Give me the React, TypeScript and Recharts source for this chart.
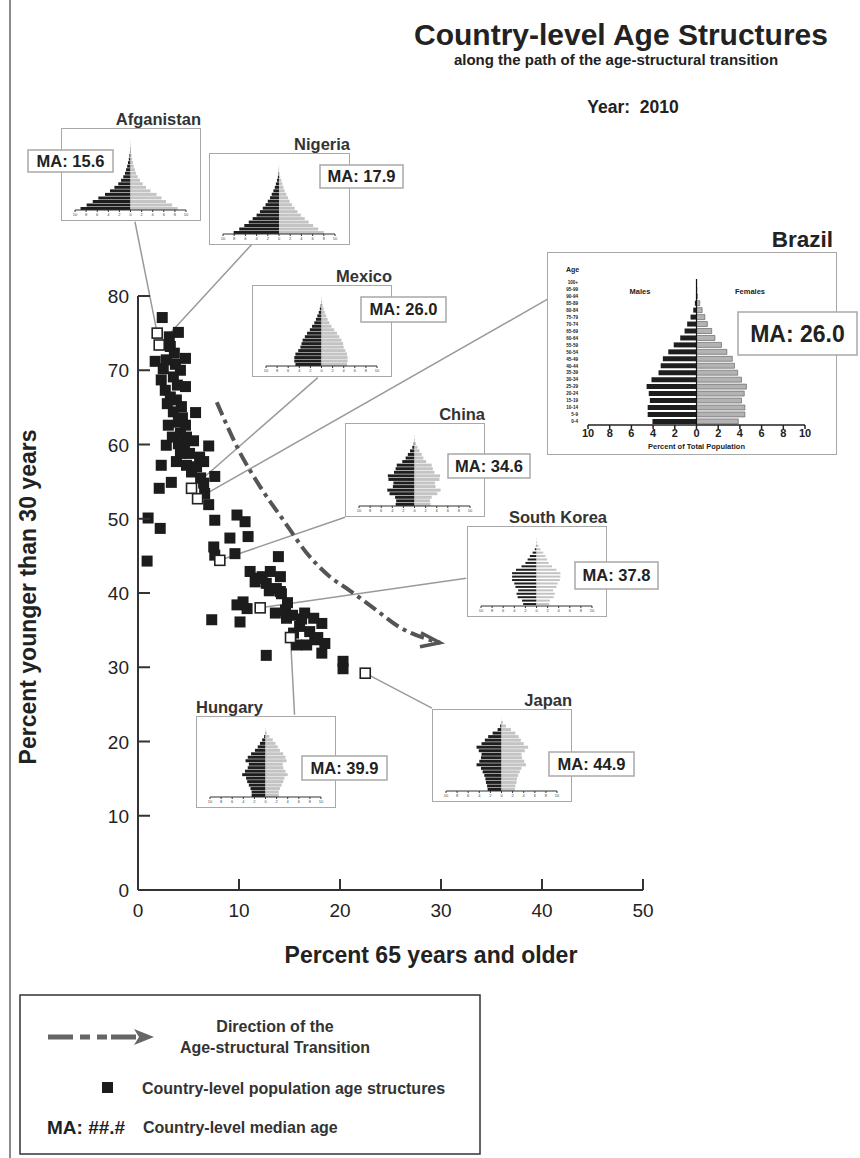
import {
  ScatterChart,
  Scatter,
  XAxis,
  YAxis,
  ReferenceLine,
  BarChart,
  Bar,
} from "recharts";

const FONT = '"Liberation Sans", Arial, Helvetica, sans-serif';

// main scatter: percent 65+ (x) vs percent under 30 (y)
const pointX = [
  2.4, 4.0, 3.1, 3.2, 1.7, 2.8, 4.7, 4.2, 2.3, 2.7, 3.5, 4.7, 3.2, 3.8, 4.3, 3.5,
  5.7, 3.0, 4.7, 4.2, 4.8, 2.8, 4.0, 7.0, 4.2, 5.1, 6.1, 3.8, 4.8, 6.5, 2.3, 5.3,
  7.6, 2.1, 3.3, 6.5, 6.6, 7.0, 7.6, 9.8, 10.6, 1.0, 2.2, 9.1, 10.9, 7.5, 7.6, 9.6,
  13.9, 0.9, 11.1, 11.8, 13.1, 14.1, 12.7, 13.7, 14.2, 9.8, 10.4, 11.6, 14.1, 10.8,
  7.3, 10.1, 13.6, 14.6, 14.7, 16.5, 17.4, 18.2, 16.0, 17.0, 17.5, 15.7, 16.7, 18.2,
  12.7, 20.3, 20.3, 3.6, 2.5, 3.9, 4.4, 3.4, 5.5, 5.8, 4.6, 6.2, 3.7, 2.9, 4.0,
  12.3, 14.8, 15.4, 16.2, 13.0, 17.8, 15.3, 18.5,
];
const pointY = [
  77.1, 75.1, 74.5, 73.2, 71.2, 71.4, 71.6, 70.0, 68.7, 67.3, 69.1, 67.8, 66.4, 66.0,
  65.1, 64.4, 64.3, 62.6, 62.6, 61.5, 61.0, 59.9, 60.1, 59.8, 58.8, 58.8, 58.3, 57.7,
  57.2, 57.7, 57.2, 56.3, 55.7, 54.1, 54.9, 54.8, 53.4, 51.9, 49.8, 50.5, 49.6, 50.1,
  48.7, 47.4, 47.6, 46.2, 45.1, 45.3, 44.9, 44.3, 42.9, 42.0, 42.9, 42.2, 41.3, 40.6,
  39.9, 38.4, 38.8, 41.5, 40.2, 37.9, 36.4, 36.1, 37.3, 37.7, 36.6, 37.3, 36.6, 35.9,
  35.5, 34.8, 33.7, 33.0, 33.0, 31.9, 31.6, 30.8, 29.8, 72.3, 70.2, 68.0, 63.6, 61.0,
  60.5, 57.0, 59.6, 55.5, 70.8, 65.5, 63.0, 42.2, 38.7, 34.6, 36.5, 40.3, 34.0, 37.0,
  33.2,
];

const highlightNames = ["Afganistan", "Nigeria", "Mexico", "Brazil", "China", "South Korea", "Hungary", "Japan"];
const highlightX = [1.9, 2.1, 5.3, 5.9, 8.1, 12.1, 15.1, 22.5];
const highlightY = [75.0, 73.4, 54.1, 52.7, 44.4, 38.0, 34.0, 29.2];
const medianAge = ["15.6", "17.9", "26.0", "26.0", "34.6", "37.8", "39.9", "44.9"];

// where each leader line meets its inset (data units)
const leaderEndX = [-0.3, 11.3, 17.8, 40.6, 20.5, 32.5, 15.5, 29.1];
const leaderEndY = [90.0, 87.0, 69.0, 79.6, 50.2, 42.0, 23.6, 24.5];

// direction-of-transition path
const arrowX = [7.8, 10.1, 12.1, 14.4, 16.7, 19.0, 21.0, 23.3, 25.9, 29.9];
const arrowY = [65.7, 58.9, 54.3, 49.8, 45.4, 42.2, 40.3, 38.0, 35.4, 33.3];

const xTicks = [0, 10, 20, 30, 40, 50];
const yTicks = [0, 10, 20, 30, 40, 50, 60, 70, 80];
const pyrTicks = [-10, -8, -6, -4, -2, 0, 2, 4, 6, 8, 10];

const ageGroups = [
  "0-4", "5-9", "10-14", "15-19", "20-24", "25-29", "30-34", "35-39", "40-44", "45-49",
  "50-54", "55-59", "60-64", "65-69", "70-74", "75-79", "80-84", "85-89", "90-94", "95-99", "100+",
];

const afgMale = [9.0, 7.9, 6.8, 5.8, 4.6, 3.7, 2.9, 2.2, 1.7, 1.3, 1.0, 0.8, 0.6, 0.45, 0.3, 0.2, 0.1, 0.05, 0.02, 0.01, 0];
const afgFemale = [8.5, 7.5, 6.4, 5.6, 4.7, 3.6, 2.8, 2.2, 1.7, 1.3, 1.0, 0.8, 0.6, 0.45, 0.3, 0.2, 0.1, 0.05, 0.02, 0.01, 0];
const ngaMale = [8.1, 7.1, 6.2, 5.4, 4.7, 4.0, 3.4, 2.9, 2.4, 2.0, 1.6, 1.3, 1.0, 0.75, 0.55, 0.35, 0.2, 0.08, 0.03, 0.01, 0];
const ngaFemale = [8.0, 7.0, 6.1, 5.3, 4.6, 3.9, 3.3, 2.8, 2.3, 1.9, 1.6, 1.3, 1.0, 0.8, 0.6, 0.4, 0.22, 0.1, 0.03, 0.01, 0];
const mexMale = [4.7, 4.9, 4.9, 4.7, 4.2, 3.8, 3.6, 3.4, 3.0, 2.6, 2.1, 1.7, 1.3, 1.0, 0.75, 0.5, 0.3, 0.15, 0.05, 0.01, 0];
const mexFemale = [4.6, 4.7, 4.7, 4.6, 4.3, 4.0, 3.9, 3.6, 3.2, 2.8, 2.3, 1.8, 1.4, 1.1, 0.85, 0.6, 0.4, 0.2, 0.07, 0.02, 0];
const chnMale = [3.4, 3.3, 3.5, 4.5, 4.9, 3.9, 3.8, 4.7, 4.8, 3.7, 3.4, 3.2, 2.2, 1.6, 1.2, 0.8, 0.4, 0.15, 0.04, 0.01, 0];
const chnFemale = [2.9, 2.8, 3.1, 4.1, 4.7, 3.8, 3.7, 4.5, 4.6, 3.6, 3.3, 3.1, 2.1, 1.6, 1.3, 0.9, 0.55, 0.25, 0.08, 0.02, 0];
const korMale = [2.4, 2.6, 3.4, 3.6, 3.3, 3.8, 4.0, 4.4, 4.4, 4.4, 3.7, 2.7, 2.0, 1.6, 1.2, 0.7, 0.3, 0.1, 0.03, 0.01, 0];
const korFemale = [2.3, 2.4, 3.1, 3.3, 3.0, 3.6, 3.8, 4.2, 4.3, 4.3, 3.6, 2.8, 2.2, 1.9, 1.6, 1.2, 0.7, 0.35, 0.1, 0.02, 0];
const hunMale = [2.5, 2.5, 2.7, 3.0, 3.3, 3.5, 4.2, 3.7, 3.2, 3.0, 3.6, 3.2, 2.6, 1.9, 1.4, 1.0, 0.6, 0.25, 0.06, 0.01, 0];
const hunFemale = [2.4, 2.4, 2.6, 2.9, 3.2, 3.4, 4.0, 3.6, 3.2, 3.1, 3.8, 3.6, 3.2, 2.6, 2.2, 1.8, 1.3, 0.7, 0.2, 0.04, 0];
const jpnMale = [2.5, 2.6, 2.8, 2.9, 3.1, 3.4, 3.7, 4.5, 4.0, 3.7, 3.6, 4.1, 4.5, 3.6, 3.0, 2.4, 1.6, 0.7, 0.25, 0.04, 0];
const jpnFemale = [2.4, 2.5, 2.7, 2.8, 3.0, 3.3, 3.6, 4.4, 4.1, 3.7, 3.6, 4.2, 4.8, 4.0, 3.5, 3.1, 2.5, 1.7, 0.8, 0.25, 0.03];
const braMale = [4.06, 4.5, 4.5, 4.3, 4.4, 4.6, 4.15, 3.5, 3.3, 3.1, 2.6, 2.1, 1.5, 1.1, 0.86, 0.55, 0.3, 0.15, 0.05, 0.02, 0.01];
const braFemale = [3.85, 4.46, 4.46, 4.15, 4.4, 4.6, 4.15, 3.8, 3.5, 3.3, 2.8, 2.3, 1.7, 1.4, 1.0, 0.77, 0.52, 0.3, 0.1, 0.04, 0.01];

const points = pointX.map((x, i) => ({ x, y: pointY[i] }));
const highlights = highlightX.map((x, i) => ({ x, y: highlightY[i], name: highlightNames[i] }));
const arrowPath = arrowX.map((x, i) => ({ x, y: arrowY[i] }));

const pyramidRows = (male: number[], female: number[]) =>
  ageGroups.map((age, i) => ({ age, m: -male[i], f: female[i] }));

// inset boxes (page px)
const insets = [
  { name: "Afganistan", male: afgMale, female: afgFemale, left: 61, top: 128, w: 140, h: 93, align: "right", ma: [28, 150, 85, 22] },
  { name: "Nigeria", male: ngaMale, female: ngaFemale, left: 209, top: 153, w: 141, h: 92, align: "right", ma: [320, 165, 83, 23] },
  { name: "Mexico", male: mexMale, female: mexFemale, left: 252, top: 285, w: 140, h: 92, align: "right", ma: [361, 297, 85, 25] },
  { name: "China", male: chnMale, female: chnFemale, left: 345, top: 423, w: 140, h: 94, align: "right", ma: [448, 454, 82, 24] },
  { name: "South Korea", male: korMale, female: korFemale, left: 467, top: 526, w: 140, h: 91, align: "right", ma: [575, 562, 83, 27] },
  { name: "Hungary", male: hunMale, female: hunFemale, left: 196, top: 716, w: 140, h: 92, align: "left", ma: [302, 756, 85, 24] },
  { name: "Japan", male: jpnMale, female: jpnFemale, left: 432, top: 709, w: 140, h: 93, align: "right", ma: [549, 752, 85, 24] },
];

const XTick = ({ x, y, payload }: any) => (
  <g>
    <line x1={x} y1={y} x2={x} y2={y - 11} stroke="#333" strokeWidth={2} />
    <text x={x} y={y + 27} textAnchor="middle" fontSize={19} fill="#222">
      {payload.value}
    </text>
  </g>
);

const YTick = ({ x, y, payload }: any) => (
  <g>
    <line x1={x} y1={y} x2={x + 12} y2={y} stroke="#333" strokeWidth={2} />
    <text x={x - 9} y={y + 7} textAnchor="end" fontSize={19} fill="#222">
      {payload.value}
    </text>
  </g>
);

const FilledSquare = ({ cx, cy }: any) => (
  <rect x={cx - 5.5} y={cy - 5.5} width={11} height={11} fill="#1c1c1c" />
);

const OpenSquare = ({ cx, cy }: any) => (
  <rect x={cx - 5} y={cy - 5} width={10} height={10} fill="#fff" stroke="#222" strokeWidth={1.6} />
);

const ArrowHead = ({ cx, cy, payload }: any) => {
  if (payload.x !== arrowX[arrowX.length - 1]) return <g />;
  return (
    <path
      d={`M${cx - 19},${cy - 10} L${cx},${cy} L${cx - 20},${cy + 4}`}
      fill="none"
      stroke="#555"
      strokeWidth={3.5}
    />
  );
};

const absTick = (v: number) => String(Math.abs(v));

function SmallPyramid({ male, female, w, h }: any) {
  return (
    <BarChart
      width={w}
      height={h}
      data={pyramidRows(male, female)}
      layout="vertical"
      stackOffset="sign"
      barCategoryGap="14%"
      margin={{ top: 7, right: 13, bottom: 0, left: 13 }}
    >
      <XAxis
        type="number"
        domain={[-10, 10]}
        ticks={pyrTicks}
        interval={0}
        tickFormatter={absTick}
        tick={{ fontSize: 4, fill: "#444" }}
        tickSize={2}
        tickMargin={1}
        height={9}
        axisLine={{ stroke: "#333" }}
        tickLine={{ stroke: "#333" }}
        allowDataOverflow
      />
      <YAxis type="category" dataKey="age" reversed hide />
      <Bar dataKey="m" stackId="p" fill="#1e1e1e" isAnimationActive={false} />
      <Bar dataKey="f" stackId="p" fill="#c4c4c4" isAnimationActive={false} />
    </BarChart>
  );
}

function BrazilPyramid() {
  return (
    <BarChart
      width={287}
      height={200}
      data={pyramidRows(braMale, braFemale)}
      layout="vertical"
      stackOffset="sign"
      barCategoryGap="12%"
      margin={{ top: 26, right: 30, bottom: 0, left: 0 }}
    >
      <XAxis
        type="number"
        domain={[-10, 10]}
        ticks={pyrTicks}
        interval={0}
        tickFormatter={absTick}
        tick={{ fontSize: 11, fill: "#222", fontWeight: "bold" }}
        tickSize={4}
        tickMargin={0}
        height={28}
        axisLine={{ stroke: "#222", strokeWidth: 1.5 }}
        tickLine={{ stroke: "#222", strokeWidth: 1.5 }}
        allowDataOverflow
        label={{
          value: "Percent of Total Population",
          position: "insideBottom",
          offset: 4,
          fontSize: 7.5,
          fontWeight: "bold",
          fill: "#222",
        }}
      />
      <YAxis
        type="category"
        dataKey="age"
        reversed
        width={40}
        interval={0}
        tickSize={0}
        tickMargin={10}
        axisLine={false}
        tickLine={false}
        tick={{ fontSize: 4.6, fill: "#222", fontWeight: "bold" }}
      />
      <Bar dataKey="m" stackId="p" fill="#1e1e1e" isAnimationActive={false} />
      <Bar dataKey="f" stackId="p" fill="#b3b3b3" stroke="#555" strokeWidth={0.6} isAnimationActive={false} />
      <ReferenceLine x={0} stroke="#111" strokeWidth={1.2} />
    </BarChart>
  );
}

const MABox = ({ x, y, w, h, text, size }: any) => (
  <g>
    <rect x={x} y={y} width={w} height={h} fill="#fff" stroke="#a8a8a8" strokeWidth={1.5} />
    <text x={x + w / 2} y={y + h / 2 + size * 0.36} textAnchor="middle" fontSize={size} fontWeight="bold" fill="#222">
      {text}
    </text>
  </g>
);

export default function App() {
  return (
    <div
      style={{
        position: "absolute",
        left: 0,
        top: 0,
        width: 860,
        height: 1158,
        background: "#fff",
        fontFamily: FONT,
        overflow: "hidden",
      }}
    >
      <div style={{ position: "absolute", left: 0, top: 0 }}>
        <ScatterChart width={860} height={1158} margin={{ top: 296, right: 217, bottom: 238, left: 78 }}>
          <XAxis
            type="number"
            dataKey="x"
            domain={[0, 50]}
            ticks={xTicks}
            interval={0}
            height={30}
            tickSize={0}
            tickMargin={0}
            tickLine={false}
            axisLine={{ stroke: "#333", strokeWidth: 2 }}
            tick={(p: any) => <XTick {...p} />}
          />
          <YAxis
            type="number"
            dataKey="y"
            domain={[0, 80]}
            ticks={yTicks}
            interval={0}
            width={60}
            tickSize={0}
            tickMargin={0}
            tickLine={false}
            axisLine={{ stroke: "#333", strokeWidth: 2 }}
            tick={(p: any) => <YTick {...p} />}
          />
          {highlights.map((h, i) => (
            <ReferenceLine
              key={h.name}
              segment={[
                { x: h.x, y: h.y },
                { x: leaderEndX[i], y: leaderEndY[i] },
              ]}
              ifOverflow="visible"
              stroke="#9a9a9a"
              strokeWidth={1.5}
            />
          ))}
          <Scatter
            data={arrowPath}
            line={{ stroke: "#555", strokeWidth: 4, strokeDasharray: "14 5 4 5" }}
            lineJointType="monotoneX"
            shape={(p: any) => <ArrowHead {...p} />}
            isAnimationActive={false}
          />
          <Scatter data={points} shape={(p: any) => <FilledSquare {...p} />} isAnimationActive={false} />
          <Scatter data={highlights} shape={(p: any) => <OpenSquare {...p} />} isAnimationActive={false} />
        </ScatterChart>
      </div>

      {insets.map((b) => (
        <div
          key={b.name}
          style={{
            position: "absolute",
            left: b.left,
            top: b.top,
            width: b.w,
            height: b.h,
            boxSizing: "border-box",
            border: "1.5px solid #a8a8a8",
            background: "#fff",
          }}
        >
          <SmallPyramid male={b.male} female={b.female} w={b.w - 3} h={b.h - 3} />
        </div>
      ))}

      <div
        style={{
          position: "absolute",
          left: 547,
          top: 252,
          width: 290,
          height: 203,
          boxSizing: "border-box",
          border: "1.5px solid #a8a8a8",
          background: "#fff",
        }}
      >
        <BrazilPyramid />
      </div>

      <svg
        width={860}
        height={1158}
        style={{ position: "absolute", left: 0, top: 0, pointerEvents: "none" }}
        fontFamily={FONT}
      >
        <line x1={10} y1={0} x2={10} y2={1158} stroke="#8a8a8a" strokeWidth={2} />

        <text x={621} y={45} textAnchor="middle" fontSize={30} fontWeight="bold" fill="#222">
          Country-level Age Structures
        </text>
        <text x={616} y={65} textAnchor="middle" fontSize={15} fontWeight="bold" fill="#222">
          along the path of the age-structural transition
        </text>
        <text x={633} y={113} textAnchor="middle" fontSize={17.5} fontWeight="bold" fill="#222" style={{ whiteSpace: "pre" }}>
          {"Year:  2010"}
        </text>

        <text
          x={36}
          y={597}
          transform="rotate(-90 36 597)"
          textAnchor="middle"
          fontSize={23}
          fontWeight="bold"
          fill="#222"
        >
          Percent younger than 30 years
        </text>
        <text x={431} y={963} textAnchor="middle" fontSize={23} fontWeight="bold" fill="#222">
          Percent 65 years and older
        </text>

        {insets.map((b) => (
          <text
            key={b.name}
            x={b.align === "right" ? b.left + b.w : b.left}
            y={b.top - 3}
            textAnchor={b.align === "right" ? "end" : "start"}
            fontSize={16.5}
            fontWeight="bold"
            fill="#333"
          >
            {b.name}
          </text>
        ))}
        {insets.map((b) => {
          const i = highlightNames.indexOf(b.name);
          return (
            <MABox key={b.name} x={b.ma[0]} y={b.ma[1]} w={b.ma[2]} h={b.ma[3]} size={16.5} text={`MA: ${medianAge[i]}`} />
          );
        })}

        <text x={833} y={247} textAnchor="end" fontSize={22.5} fontWeight="bold" fill="#222">
          Brazil
        </text>
        <text x={566} y={272} fontSize={7} fontWeight="bold" fill="#222">
          Age
        </text>
        <text x={640} y={294} textAnchor="middle" fontSize={7.5} fontWeight="bold" fill="#222">
          Males
        </text>
        <text x={750} y={294} textAnchor="middle" fontSize={7.5} fontWeight="bold" fill="#222">
          Females
        </text>
        <MABox x={738} y={312} w={119} h={43} size={23} text={`MA: ${medianAge[3]}`} />

        <rect x={20} y={995} width={460} height={159} fill="none" stroke="#333" strokeWidth={1.5} />
        <line x1={48} y1={1037} x2={136} y2={1037} stroke="#666" strokeWidth={5} strokeDasharray="25 7 10 7 10 4" />
        <polygon points="134,1029 154,1037 134,1045 139,1037" fill="#666" />
        <text x={275} y={1032} textAnchor="middle" fontSize={16} fontWeight="bold" fill="#333">
          Direction of the
        </text>
        <text x={275} y={1053} textAnchor="middle" fontSize={16} fontWeight="bold" fill="#333">
          Age-structural Transition
        </text>
        <rect x={102} y={1082} width={11} height={11} fill="#1c1c1c" />
        <text x={142} y={1094} fontSize={16} fontWeight="bold" fill="#333">
          Country-level population age structures
        </text>
        <text x={47} y={1134} fontSize={19} fontWeight="bold" fill="#222">
          MA: ##.#
        </text>
        <text x={143} y={1133} fontSize={16} fontWeight="bold" fill="#333">
          Country-level median age
        </text>
      </svg>
    </div>
  );
}
